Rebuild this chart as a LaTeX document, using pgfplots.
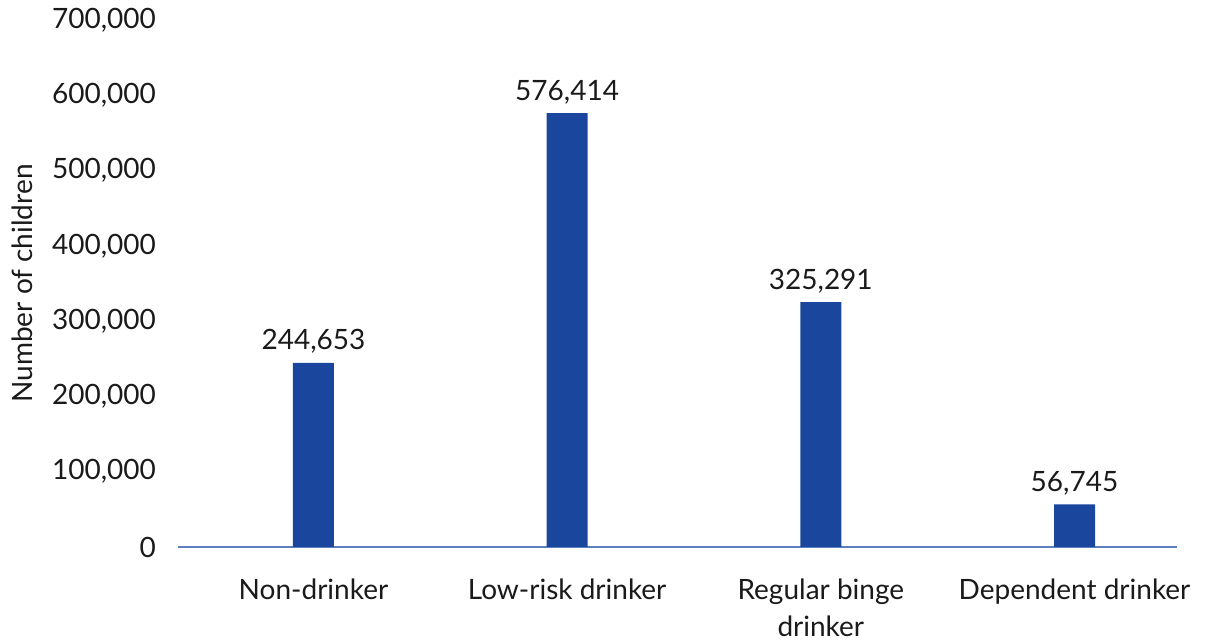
\documentclass[border=0pt]{standalone}
\usepackage{fontspec}
\setmainfont{Lato}
\usepackage{pgfplots}
\pgfplotsset{compat=1.18}
\definecolor{barblue}{HTML}{1A479D}
\definecolor{axisblue}{HTML}{5B80BF}
\definecolor{txt}{HTML}{1A1A1A}
\begin{document}
\begin{tikzpicture}[x=1pt,y=1pt]
\begin{axis}[
  scale only axis,
  width=499.5pt, height=263.5pt,
  at={(89pt,46.5pt)}, anchor=south west,
  xmin=-0.534, xmax=3.404,
  ymin=0, ymax=700000,
  ybar, bar width=20.5pt,
  axis x line*=bottom,
  axis y line*=left,
  y axis line style={draw=none},
  x axis line style={axisblue, line width=0.75pt, -},
  xtick={0,1,2,3},
  xticklabels={Non-drinker,Low-risk drinker,Regular binge\\drinker,Dependent drinker},
  xtick style={draw=none},
  ytick style={draw=none},
  ytick={0,100000,...,700000},
  scaled y ticks=false,
  font=\fontsize{14}{18.5}\selectfont,
  xticklabel style={align=center, text=txt, font=\fontsize{14}{18.5}\selectfont, yshift=-8pt},
  yticklabel style={text=txt, xshift=-7.5pt},
  yticklabel={\pgfmathprintnumber[fixed,1000 sep={,},assume math mode=true]{\tick}},
  nodes near coords={\pgfmathprintnumber[fixed,1000 sep={,},assume math mode=true]{\pgfplotspointmeta}},
  nodes near coords style={text=txt, font=\fontsize{14}{18.5}\selectfont, yshift=1pt},
  ylabel={Number of children},
  ylabel shift=3pt,
  ylabel style={text=txt, font=\fontsize{14}{18.5}\selectfont},
  clip=false,
]
\addplot[fill=barblue, draw=none] coordinates {(0,244653) (1,576414) (2,325291) (3,56745)};
\end{axis}
\path[use as bounding box] (0,0) rectangle (603pt,320pt);
\end{tikzpicture}
\end{document}
